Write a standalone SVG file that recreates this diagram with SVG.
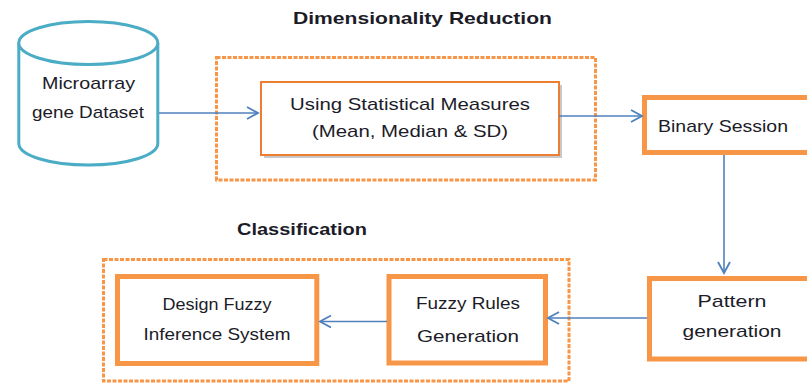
<svg xmlns="http://www.w3.org/2000/svg" width="807" height="383" viewBox="0 0 807 383">
<style>
.t{font-family:"Liberation Sans",Arial,sans-serif;font-size:17px;fill:#1c1c28;text-anchor:middle}
.b{font-weight:bold;text-anchor:start}
.thick{fill:#fff;stroke:#f79646;stroke-width:5}
.dot{fill:none;stroke:#f79646;stroke-width:3;stroke-dasharray:4 1.5}
.con{fill:none;stroke:#4f81bd;stroke-width:1.6;marker-end:url(#ah)}
</style>
<defs>
<marker id="ah" markerUnits="userSpaceOnUse" markerWidth="16" markerHeight="16" viewBox="-12 -8 14 16" refX="0" refY="0" orient="auto">
<path d="M-11,-6 L0,0 L-11,6" fill="none" stroke="#4f81bd" stroke-width="1.8"/>
</marker>
</defs>
<rect width="807" height="383" fill="#fff"/>
<text class="t b" x="293" y="24" textLength="259" lengthAdjust="spacingAndGlyphs">Dimensionality Reduction</text>
<text class="t b" x="237" y="235" textLength="130" lengthAdjust="spacingAndGlyphs">Classification</text>
<g id="group-dimred"><rect class="dot" x="216.5" y="57.5" width="379" height="122.5"/></g>
<g id="group-classification"><rect class="dot" x="103.5" y="259.5" width="465.5" height="121.5"/></g>
<g id="dataset">
<path d="M18.8,43 V143.5 A69.5,21.5 0 0 0 157.8,143.5 V43" fill="#fff" stroke="#4bacc6" stroke-width="3"/>
<ellipse cx="88.3" cy="43" rx="69.5" ry="21.5" fill="#fff" stroke="#4bacc6" stroke-width="3"/>
<text class="t" x="88.5" y="89" textLength="93" lengthAdjust="spacingAndGlyphs">Microarray</text>
<text class="t" x="88" y="118" textLength="112" lengthAdjust="spacingAndGlyphs">gene Dataset</text>
</g>
<g id="stats">
<rect x="264" y="85" width="298" height="73" fill="#c8c8c8"/>
<rect x="261" y="82" width="298" height="73" fill="#fff" stroke="#ed7d31" stroke-width="2"/>
<text class="t" x="410" y="110" textLength="240" lengthAdjust="spacingAndGlyphs">Using Statistical Measures</text>
<text class="t" x="410" y="137" textLength="196" lengthAdjust="spacingAndGlyphs">(Mean, Median &amp; SD)</text>
</g>
<g id="binary">
<rect class="thick" x="644.5" y="97.5" width="170" height="55"/>
<text class="t" x="723" y="132" textLength="130" lengthAdjust="spacingAndGlyphs">Binary Session</text>
</g>
<g id="pattern">
<rect class="thick" x="649.5" y="278.5" width="170" height="80.5"/>
<text class="t" x="732" y="307" textLength="69" lengthAdjust="spacingAndGlyphs">Pattern</text>
<text class="t" x="732" y="337" textLength="99" lengthAdjust="spacingAndGlyphs">generation</text>
</g>
<g id="rules">
<rect class="thick" x="389" y="276.5" width="156.5" height="86.5"/>
<text class="t" x="468" y="309" textLength="104" lengthAdjust="spacingAndGlyphs">Fuzzy Rules</text>
<text class="t" x="468" y="342" textLength="102" lengthAdjust="spacingAndGlyphs">Generation</text>
</g>
<g id="fis">
<rect class="thick" x="117.5" y="276.5" width="199.3" height="87"/>
<text class="t" x="217" y="310" textLength="109" lengthAdjust="spacingAndGlyphs">Design Fuzzy</text>
<text class="t" x="217" y="340" textLength="147" lengthAdjust="spacingAndGlyphs">Inference System</text>
</g>
<g id="connectors">
<path class="con" d="M159,113 H258"/>
<path class="con" d="M559,116 H642"/>
<path class="con" d="M724,155 V273"/>
<path class="con" d="M647,318 H548"/>
<path class="con" d="M387,321.5 H320"/>
</g>
</svg>
